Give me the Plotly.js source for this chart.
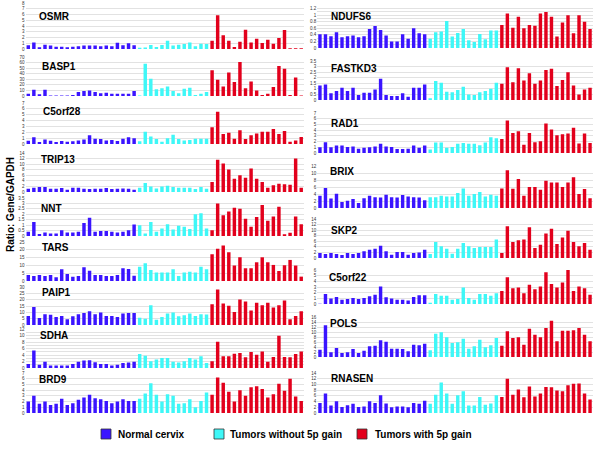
<!DOCTYPE html>
<html><head><meta charset="utf-8">
<script src="https://cdn.plot.ly/plotly-3.0.1.min.js"></script>
<style>html,body{margin:0;padding:0;background:#fff}#chart{width:600px;height:451px}</style>
</head><body><div id="chart"></div>
<script>
// Groups (bars per group, in order)
const groupNames = ["Normal cervix", "Tumors without 5p gain", "Tumors with 5p gain"];
const groupSizes = [20, 13, 17];
const groupColors = ["#3a14ff", "#3ff7f7", "#e2001c"];

// Left column genes
const OSMR = [0.65,1.15,0.3,0.75,0.6,0.4,0.4,0.3,0.4,0.5,0.6,0.6,0.6,0.5,0.6,0.5,1.1,0.65,1.0,0.65,
  0.2,0.25,0.7,0.35,0.7,1.45,0.6,0.75,0.85,1.15,0.5,0.9,0.85,
  1.45,5.85,2.4,1.45,0.35,1.25,3.35,1.15,1.8,1.05,1.6,0.9,1.9,3.3,0.15,0.15,0.15];
const BASP1 = [4,11,3,11,1,1,1,1,2,7,9,10,7,5,6,4,4,4,4,9,
  1,58,31,12,14,17,9,5,13,15,2,4,7,
  46,29,17,42,25,61,14,26,10,2,4,16,54,49,2,33,1];
const C5orf28 = [0.55,1.15,0.35,0.75,0.55,0.35,0.5,0.4,0.45,0.6,0.75,1.5,0.9,0.85,0.6,0.7,0.5,0.9,1.15,1.0,
  0.45,2.1,1.3,0.85,0.4,1.0,1.6,0.85,0.6,0.7,0.9,0.9,0.9,
  2.85,5.5,1.7,1.9,0.9,2.35,0.85,1.5,1.8,2.1,2.1,2.55,1.7,2.2,0.4,0.6,1.2];
const TRIP13 = [1.2,1.55,1.8,1.8,1.2,1.2,1.45,0.85,1.55,1.55,1.2,1.1,1.2,1.2,1.45,1.1,1.2,1.3,1.2,0.85,
  1.55,3.2,2.0,1.3,2.0,2.25,1.8,1.55,1.55,1.55,1.1,1.8,1.2,
  3.6,11.6,10.2,8.1,4.8,6.0,5.1,8.4,4.8,3.6,1.55,2.4,3.0,2.75,2.6,12.0,1.55];
const NNT = [0.4,1.3,0.18,0.33,0.24,0.24,0.54,0.33,0.33,0.4,1.2,1.67,0.4,0.45,0.45,0.4,0.33,0.4,0.54,1.05,
  1.0,0.24,1.3,0.4,0.7,1.08,0.6,0.95,0.85,0.65,2.0,2.1,0.7,
  0.54,3.0,1.9,2.25,2.6,2.5,1.6,0.85,1.75,2.85,1.4,1.8,2.7,0.15,0.3,1.8,1.08];
const TARS = [3.9,3.2,3.9,3.2,3.9,2.4,7.5,4.5,2.8,3.2,8.8,6.6,3.9,3.9,3.2,3.2,3.9,8.1,7.7,3.4,
  9.2,11.3,7.1,5.4,5.4,5.4,7.5,3.2,5.4,6.0,5.4,9.2,7.5,
  17.1,20.6,22.7,18.4,9.9,15.2,8.1,8.1,12.0,15.2,12.0,10.3,6.4,10.1,13.5,9.9,2.8];
const PAIP1 = [7.2,14.3,5.6,8.5,8.0,6.4,7.2,4.5,6.9,8.5,9.5,10.9,8.5,9.8,7.2,7.2,6.4,9.0,9.5,9.5,
  5.8,5.0,15.6,4.2,6.4,9.0,9.8,6.9,7.7,9.0,7.2,8.5,8.2,
  16.4,28.1,17.0,15.1,10.3,20.1,18.6,11.4,17.5,15.6,17.5,13.8,15.6,19.4,4.5,7.2,10.9];
const SDHA = [1.2,5.4,1.0,1.9,0.8,0.8,0.8,0.8,1.2,1.9,2.3,2.4,1.8,1.2,1.2,0.8,1.0,1.5,1.7,1.9,
  4.3,3.8,2.1,2.6,3.1,3.1,1.9,1.7,2.1,3.1,2.6,3.6,1.5,
  2.1,8.1,3.6,3.6,4.4,4.6,3.3,4.9,4.1,5.1,1.9,3.4,9.9,3.4,3.3,4.3,5.1];
const BRD9 = [2.0,3.0,1.6,2.0,1.4,1.6,2.5,1.4,1.7,2.3,2.7,3.2,2.6,2.4,2.1,1.7,2.0,2.4,2.1,2.1,
  2.5,3.4,5.2,3.2,2.0,3.3,3.0,1.6,1.7,2.4,1.0,2.1,3.6,
  3.2,6.2,5.3,3.7,2.0,4.0,3.0,4.5,4.7,4.2,2.7,3.3,5.1,3.9,6.0,2.9,2.1];

// Right column genes
const NDUFS6 = [0.42,0.42,0.36,0.48,0.33,0.36,0.38,0.33,0.36,0.58,0.67,0.55,0.38,0.20,0.20,0.42,0.28,0.60,0.45,0.42,
  0.28,0.48,0.50,0.82,0.35,0.46,0.58,0.24,0.18,0.43,0.27,0.53,0.53,
  0.70,1.05,0.62,0.95,0.60,0.70,0.68,1.05,1.10,0.95,0.35,0.78,1.00,0.45,1.00,0.80,0.58];
const FASTKD3 = [1.3,1.4,0.6,0.8,1.1,0.8,1.1,0.45,0.65,0.65,0.95,1.9,0.45,0.35,0.35,0.6,0.3,1.1,1.1,1.4,
  0.15,1.7,1.55,0.75,0.7,0.9,1.2,0.5,0.45,0.7,0.8,1.0,1.55,
  1.45,2.95,1.6,2.85,1.75,2.4,1.45,1.75,2.7,2.8,1.25,1.8,2.5,1.3,0.5,0.95,1.1];
const RAD1 = [1.0,1.9,1.0,1.3,1.3,1.05,1.15,0.75,0.9,1.0,1.15,1.6,1.15,1.05,0.7,0.7,0.75,1.3,0.9,1.3,
  0.6,1.85,1.85,0.9,1.05,1.6,1.75,1.6,1.6,1.35,1.85,2.75,2.6,
  2.45,5.7,3.5,3.8,1.45,3.5,1.9,2.05,5.15,4.1,3.1,3.3,3.4,4.4,1.65,3.4,1.75];
const BRIX = [3.5,5.7,2.7,4.1,1.7,2.1,2.6,1.4,2.8,3.5,3.1,3.0,3.8,3.1,3.0,3.7,3.3,3.1,3.0,2.2,
  3.1,3.1,3.5,3.3,3.3,4.3,5.6,3.5,4.0,4.6,3.3,3.8,3.5,
  5.6,10.8,5.5,8.3,3.5,6.0,6.0,5.2,7.8,7.3,7.3,6.0,7.3,8.8,4.0,5.4,2.8];
const SKP2 = [1.8,1.45,1.8,1.45,1.1,1.8,1.45,1.8,2.4,3.0,3.35,4.4,2.4,1.2,2.15,2.15,1.2,1.8,2.0,3.0,
  1.45,5.75,4.2,3.35,1.55,3.35,5.4,4.2,3.6,3.95,3.95,3.95,6.6,
  1.8,11.4,5.75,6.35,6.6,11.0,3.6,4.8,8.75,10.5,5.0,7.4,9.8,5.75,4.2,5.4,3.0];
const C5orf22 = [0.05,1.75,0.95,1.25,0.75,0.9,1.05,0.9,1.05,1.35,1.65,3.1,1.2,0.95,0.75,0.75,0.6,1.25,1.55,1.55,
  0.2,1.75,1.45,1.45,0.75,0.9,2.9,1.05,0.75,1.75,1.75,1.45,1.9,
  2.3,4.7,2.8,2.9,1.9,3.4,2.6,3.1,5.6,3.55,2.9,3.8,6.4,2.3,3.1,2.8,1.65];
const POLS = [2.9,12.7,1.9,3.6,1.6,1.9,3.2,1.6,2.5,4.3,4.5,6.7,6.1,3.3,3.3,3.2,2.3,4.9,4.7,5.3,
  2.7,9.3,9.9,7.9,5.6,5.9,7.3,3.3,4.3,6.9,3.9,4.7,7.6,
  4.5,10.3,7.6,7.9,4.9,11.3,8.9,7.9,11.6,14.5,6.3,10.5,10.5,10.7,11.6,8.9,6.3];
const RNASEN = [3.5,6.8,2.6,4.1,2.1,2.7,3.2,2.1,2.3,4.1,3.5,6.2,3.3,2.0,2.3,2.3,2.0,3.5,3.2,4.3,
  3.2,6.4,10.7,6.8,3.2,6.2,7.6,2.6,2.6,5.6,2.9,3.3,6.2,
  5.6,12.0,6.4,8.2,5.5,9.3,5.8,6.8,9.1,9.0,7.9,7.6,9.7,10.2,10.3,6.8,4.7];

const leftGenes = ["OSMR","BASP1","C5orf28","TRIP13","NNT","TARS","PAIP1","SDHA","BRD9"];
const leftData = [OSMR,BASP1,C5orf28,TRIP13,NNT,TARS,PAIP1,SDHA,BRD9];
const leftMax = [8,70,7,14,3.5,25,30,12,7];
const leftStep = [1,10,1,2,0.5,5,5,2,1];
const leftGrid = [1,10,1,2,0.5,5,5,1,1];
const rightGenes = ["NDUFS6","FASTKD3","RAD1","BRIX","SKP2","C5orf22","POLS","RNASEN"];
const rightData = [NDUFS6,FASTKD3,RAD1,BRIX,SKP2,C5orf22,POLS,RNASEN];
const rightMax = [1.25,3.5,7,12,14,6,16,14];
const rightStep = [0.2,0.5,1,2,2,1,2,2];
const rightGrid = [0.1,0.5,1,2,2,1,2,2];
const yLabel = "Ratio: Gene/GAPDH";

// ---- layout (pixel geometry) ----
const W = 600, H = 451;
const leftPx = [[3,49],[57,96],[103,144],[153,192],[198,236],[242,281],[287,325],[329,368],[373,413]];
const rightPx = [[7,48],[61,100],[113,153],[166,208],[219,258],[270,304],[317,357],[373,413]];
const leftX = [25.5,304], rightX = [317.2,592.8];
const leftLbl = [[37,16],[40,66],[41,112],[39,159],[39,208],[40,247],[40,292],[38,335],[37,379]];
const rightLbl = [[329,16],[329,69],[329,124],[328,171],[329,230],[327,277],[328,323],[329,378]];

const FONT = "Liberation Sans, Arial, Helvetica, sans-serif";
const traces = [];
const layout = {
  width: W, height: H, margin: {l:0,r:0,t:0,b:0},
  paper_bgcolor: "#fff", plot_bgcolor: "#fff",
  showlegend: false, bargap: 0.38, barmode: "overlay",
  font: {family: FONT, color: "#000"},
  annotations: [], shapes: []
};
const panels = [];
leftGenes.forEach((g,i)=>panels.push({name:g, data:leftData[i], max:leftMax[i], step:leftStep[i], grid:leftGrid[i], px:leftPx[i], xr:leftX, lbl:leftLbl[i]}));
rightGenes.forEach((g,i)=>panels.push({name:g, data:rightData[i], max:rightMax[i], step:rightStep[i], grid:rightGrid[i], px:rightPx[i], xr:rightX, lbl:rightLbl[i]}));

panels.forEach((p,k)=>{
  const n = k+1;
  const xa = "x"+(n===1?"":n), ya = "y"+(n===1?"":n);
  let start = 0;
  groupSizes.forEach((sz,gi)=>{
    const xs = [], ys = [];
    for (let j=0;j<sz;j++){ xs.push(start+j); ys.push(p.data[start+j]); }
    start += sz;
    traces.push({type:"bar", x:xs, y:ys, xaxis:xa, yaxis:ya, name:groupNames[gi],
      marker:{color:groupColors[gi], line:{width:0}}, hoverinfo:"y"});
  });
  layout["xaxis"+(n===1?"":n)] = {domain:[p.xr[0]/W, p.xr[1]/W], range:[-0.5,49.5],
    showticklabels:false, showgrid:false, zeroline:false, ticks:"", anchor:ya, fixedrange:true};
  const yax = {domain:[1-p.px[1]/H, 1-p.px[0]/H], range:[0,p.max],
    dtick:p.step, tick0:0, showgrid:true, gridcolor:"#e2e2e2", gridwidth:1, zeroline:false,
    tickfont:{size:4.5, color:"#333", family:FONT}, ticks:"", ticklen:0, anchor:xa, fixedrange:true,
    automargin:false};
  if (p.grid !== p.step) {
    yax.minor = {dtick:p.grid, tick0:0, showgrid:true, gridcolor:"#e2e2e2", gridwidth:1, ticks:""};
  }
  layout["yaxis"+(n===1?"":n)] = yax;
  layout.annotations.push({text:"<b>"+p.name+"</b>", xref:"paper", yref:"paper",
    x:p.lbl[0]/W, y:1-p.lbl[1]/H, xanchor:"left", yanchor:"middle", showarrow:false,
    font:{size:10, family:FONT, color:"#000"}});
});

// y label
layout.annotations.push({text:"<b>"+yLabel+"</b>", xref:"paper", yref:"paper", x:10/W, y:1-205/H,
  textangle:-90, showarrow:false, xanchor:"center", yanchor:"middle", font:{size:10, family:FONT}});

// legend (boxes + labels)
const legX = [[101,111,116],[214,224,228],[357,367,373]];
groupNames.forEach((g,i)=>{
  layout.shapes.push({type:"rect", xref:"paper", yref:"paper",
    x0:legX[i][0]/W, x1:legX[i][1]/W, y0:1-439/H, y1:1-429/H,
    fillcolor:groupColors[i], line:{color:"#333", width:0.8}});
  layout.annotations.push({text:"<b>"+g+"</b>", xref:"paper", yref:"paper",
    x:legX[i][2]/W, y:1-434/H, xanchor:"left", yanchor:"middle", showarrow:false,
    font:{size:10, family:FONT, color:"#000"}});
});

Plotly.newPlot("chart", traces, layout, {displayModeBar:false, staticPlot:true});
</script></body></html>
